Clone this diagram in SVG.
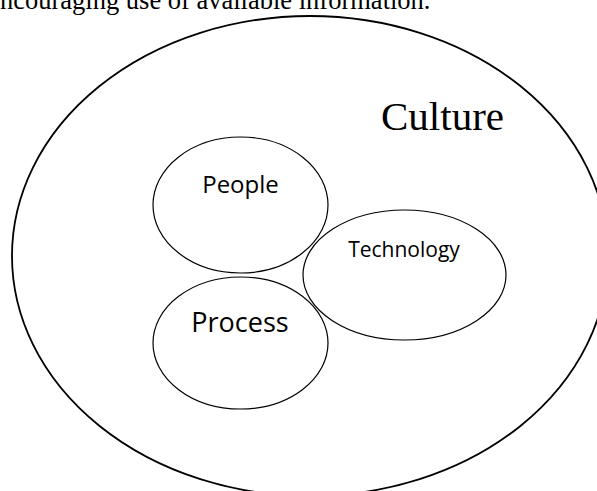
<svg xmlns="http://www.w3.org/2000/svg" width="597" height="491" viewBox="0 0 597 491">
<style>
.big{fill:none;stroke:#000;stroke-width:1.8}
.node{fill:none;stroke:#000;stroke-width:1.2}
.serif{font-family:"Liberation Serif","Times New Roman",serif;fill:#000}
.sans{font-family:"Open Sans","Noto Sans",sans-serif;fill:#000}
</style>
<rect width="597" height="491" fill="#fff"/>
<text class="serif" x="0" y="9" font-size="26.5">ncouraging use of available information.</text>
<g id="culture">
<ellipse class="big" cx="310" cy="256" rx="298" ry="240"/>
<text class="serif" x="381" y="130" font-size="41">Culture</text>
</g>
<g id="people">
<ellipse class="node" cx="240.5" cy="205" rx="87.5" ry="68"/>
<text class="sans" x="240.5" y="193" font-size="24" text-anchor="middle">People</text>
</g>
<g id="technology">
<ellipse class="node" cx="404.5" cy="275" rx="101.5" ry="65"/>
<text class="sans" x="404" y="257" font-size="21" text-anchor="middle">Technology</text>
</g>
<g id="process">
<ellipse class="node" cx="240.5" cy="343" rx="87.5" ry="66"/>
<text class="sans" x="240" y="332" font-size="27" text-anchor="middle">Process</text>
</g>
<g id="connectors"/>
</svg>
